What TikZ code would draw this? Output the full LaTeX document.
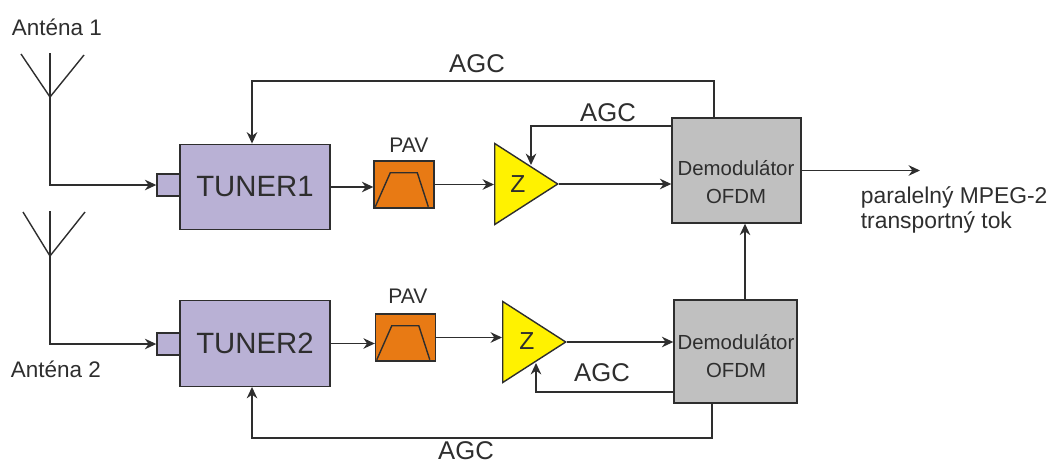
\documentclass[tikz,border=0pt]{standalone}
\usepackage{fontspec}
\setmainfont{Liberation Sans}
\usetikzlibrary{arrows.meta,shapes.geometric}
\definecolor{tunerfill}{HTML}{B9B1D5}
\definecolor{pavfill}{HTML}{E87A14}
\definecolor{ampfill}{HTML}{FFF200}
\definecolor{demfill}{HTML}{C0C0C0}
\definecolor{ink}{HTML}{2E2E2E}
\tikzset{
  every node/.style={text=ink},
  wire/.style={draw=ink,line width=0.8pt},
  sig/.style={wire,-{Stealth[length=6.5pt,width=6pt]}},
  tuner/.style={wire,fill=tunerfill,minimum width=3cm,minimum height=1.71cm,inner sep=0pt,font=\fontsize{16.7}{18}\selectfont},
  port/.style={wire,fill=tunerfill,minimum width=0.46cm,minimum height=0.44cm,inner sep=0pt},
  pav/.style={wire,fill=pavfill,minimum width=1.2cm,minimum height=0.94cm,inner sep=0pt},
  amp/.style={wire,fill=ampfill,isosceles triangle,isosceles triangle apex angle=65.5,minimum height=1.26cm,inner sep=0pt,anchor=lower side},
  demod/.style={wire,fill=demfill,inner sep=0pt},
  demtext/.style={align=center,inner sep=0pt,font=\fontsize{11.6}{16.2}\selectfont},
  lab/.style={inner sep=0pt,font=\fontsize{14.6}{16}\selectfont},
  small/.style={inner sep=0pt,font=\fontsize{12}{14}\selectfont},
}
\begin{document}
\begin{tikzpicture}[x=0.02cm,y=-0.02cm]
  \useasboundingbox (0,0) rectangle (1052,463);
  % upper branch
  \node[port] (port1) at (168.5,185) {};
  \node[tuner] (tun1) at (255,187) {TUNER1};
  \node[pav] (pav1) at (404,184.5) {};
  \node[amp] (amp1) at (494,184) {};
  \node[demod,minimum width=2.58cm,minimum height=2.1cm] (dem1) at (736.5,170.5) {};
  % lower branch
  \node[port] (port2) at (168.5,344) {};
  \node[tuner] (tun2) at (255,343.5) {TUNER2};
  \node[pav] (pav2) at (405.5,337.5) {};
  \node[amp] (amp2) at (502,342) {};
  \node[demod,minimum width=2.46cm,minimum height=2.06cm] (dem2) at (735.5,351.5) {};
  % texts
  \node at (518,184) {\fontsize{14}{16}\selectfont Z};
  \node at (527,341) {\fontsize{14}{16}\selectfont Z};
  \node[demtext] (txt1) at (736,182) {Demodulátor\\OFDM};
  \node[demtext] (txt2) at (736,356) {Demodulátor\\OFDM};
  \node[small] (pavl1) at (409,145) {PAV};
  \node[small] (pavl2) at (408,296) {PAV};
  \node[lab] (agc1) at (477,64) {AGC};
  \node[lab] (agc2) at (608,113) {AGC};
  \node[lab] (agc3) at (602,373) {AGC};
  \node[lab] (agc4) at (466,451) {AGC};
  \node[small,font=\fontsize{12.8}{14}\selectfont] (ant1l) at (57,27) {Anténa 1};
  \node[small,font=\fontsize{12.8}{14}\selectfont] (ant2l) at (56,369) {Anténa 2};
  \node[small,anchor=north west,align=left,font=\fontsize{13}{14.2}\selectfont] (outl) at (860.5,186) {paralelný MPEG-2\\transportný tok};
  % antennas
  \coordinate (ant1) at (50,97);
  \coordinate (ant2) at (50,256);
  \draw[wire] (ant1)--++(0,-44);
  \draw[wire] (ant1)--++(-29,-43);
  \draw[wire] (ant1)--++(34,-42);
  \draw[wire] (ant2)--++(0,-45);
  \draw[wire] (ant2)--++(-27,-44);
  \draw[wire] (ant2)--++(35,-44);
  \draw[sig] (ant1)|-(port1.west);
  \draw[sig] (ant2)|-(port2.west);
  % signal path
  \draw[sig] (tun1.east)--(tun1.east-|pav1.west);
  \draw[sig] (pav1.east)--(pav1.east-|amp1.lower side);
  \draw[sig] (amp1.apex)--(amp1.apex-|dem1.west);
  \draw[sig] (tun2.east)--(tun2.east-|pav2.west);
  \draw[sig] (pav2.east)--(pav2.east-|amp2.lower side);
  \draw[sig] (amp2.apex)--(amp2.apex-|dem2.west);
  \coordinate (out) at (920,170.5);
  \draw[sig] (dem1.east)--(out);
  \coordinate (link) at (745,300);
  \draw[sig] (link)--(link|-dem1.south);
  % AGC loops
  \coordinate (top1) at (714,118);
  \coordinate (low1) at (712,403);
  \draw[sig] (top1)--++(0,-37)-|(tun1.north-|252,0);
  \draw[sig] (low1)--++(0,35)-|(tun2.south-|252,0);
  \coordinate (fb1) at (672,126);
  \coordinate (fb1e) at (531,165);
  \draw[sig] (fb1)-|(fb1e);
  \coordinate (fb2) at (674,392);
  \coordinate (fb2e) at (536,363);
  \draw[sig] (fb2)-|(fb2e);
  % filter curves
  \foreach \n in {pav1,pav2}
    \draw[wire] ([shift={(0.04cm,0.04cm)}]\n.south west)--([shift={(0.34cm,0.72cm)}]\n.south west)--([shift={(0.88cm,0.72cm)}]\n.south west)--([shift={(1.1cm,0.04cm)}]\n.south west);
\end{tikzpicture}
\end{document}
